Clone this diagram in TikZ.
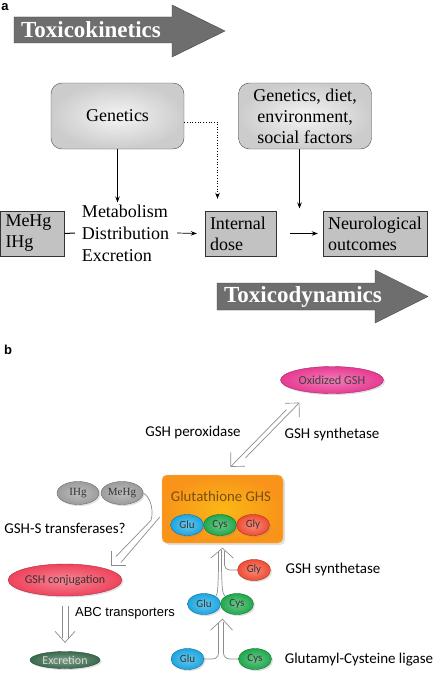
\documentclass[tikz,border=0pt]{standalone}
\usepackage{fontspec}
\setmainfont{Liberation Serif}
\setsansfont{Carlito}
\newfontfamily\arialfont{Liberation Sans}
\usetikzlibrary{arrows.meta,shapes.geometric,shadows,calc}

\definecolor{arrowgrey}{HTML}{6E6E6E}
\definecolor{oxipink}{HTML}{E83A92}
\definecolor{conjred}{HTML}{F0435C}
\definecolor{excgreen}{HTML}{3A6A4E}
\definecolor{ghsorange}{HTML}{F8A01C}
\definecolor{ghstext}{HTML}{7A4E12}
\definecolor{glublue}{HTML}{1CA6E0}
\definecolor{cysgreen}{HTML}{1FA84C}
\definecolor{glyred}{HTML}{F04C34}
\definecolor{hggrey}{HTML}{9C9C9C}

\begin{document}
\begin{tikzpicture}[x=1pt,y=-1pt,
    >={Stealth[length=6pt,width=4.5pt]},
    flow/.style={line width=0.7pt},
    bigarrow/.style={draw=black!75, fill=arrowgrey},
    bigtext/.style={text=white, font=\fontsize{23}{23}\selectfont\bfseries},
    factorbox/.style={draw=black!70, rounded corners=11pt, inner color=black!4, outer color=black!20,
        minimum width=133pt, minimum height=66pt, align=center, font=\fontsize{18}{21}\selectfont},
    stagebox/.style={draw=black!80, fill=black!24, inner xsep=5pt, inner ysep=0pt, minimum height=45pt,
        text width=#1, align=left, font=\fontsize{18}{21}\selectfont},
    panellabel/.style={font=\arialfont\bfseries\fontsize{13}{13}\selectfont},
    sanslabel/.style={font=\sffamily\fontsize{15}{15}\selectfont},
    blob/.style={ellipse, draw=#1!70!black, inner color=#1!65!white, outer color=#1,
        inner sep=0pt, drop shadow={shadow xshift=1.5pt, shadow yshift=-1.5pt, opacity=0.25}},
    aminoacid/.style={blob=#1, minimum width=33pt, minimum height=21pt,
        font=\sffamily\fontsize{11}{11}\selectfont, text=black!80},
    hollow/.style={draw=black!45, line width=0.7pt},
    openhead/.style={hollow, -{Straight Barb[angle=90:14pt]}}
]
    \useasboundingbox (0,0) rectangle (433,685);

    % ---------- panel a ----------
    \node[panellabel] (laba) at (5,7) {a};

    % toxicokinetics / toxicodynamics arrows
    \draw[bigarrow] (14,17) -- (172,17) -- (172,5) -- (225,31) -- (172,57) -- (172,43) -- (14,43) -- cycle;
    \node[bigtext] (tk) at (91,30) {Toxicokinetics};
    \draw[bigarrow] (217,283) -- (375,283) -- (375,270) -- (428,296.5) -- (375,323) -- (375,310) -- (217,310) -- cycle;
    \node[bigtext] (td) at (303,296.5) {Toxicodynamics};

    % modifying factors
    \node[factorbox] (gen) at (117.5,116) {Genetics};
    \node[factorbox] (env) at (305,116) {Genetics, diet,\\environment,\\social factors};

    % exposure chain
    \node[stagebox=54pt] (hgbox) at (32.5,233.5) {MeHg\\IHg};
    \node[align=left, inner sep=0pt, font=\fontsize{18}{22}\selectfont] (metab) at (125.5,233) {Metabolism\\Distribution\\Excretion};
    \node[stagebox=61pt] (dose) at (240.5,233.5) {Internal\\dose};
    \node[stagebox=94pt] (neuro) at (375,233.5) {Neurological\\outcomes};

    \draw[flow, ->, shorten >=2pt] (gen.south) -- (gen.south |- metab.north);
    \draw[flow, dotted, ->] ([yshift=-6pt]gen.east) -| ($(dose.north)+(-23,-12)$);
    \draw[line width=1pt] (hgbox.east) -- ([xshift=-7pt]metab.west);
    \draw[flow, ->] ([xshift=8pt]metab.east) -- ([xshift=-8pt]dose.west);
    \draw[flow, ->] ([xshift=14pt]dose.east) -- ([xshift=-5pt]neuro.west);
    \coordinate (hit) at ($(dose.east)!0.5!(neuro.west)+(0,-25)$);
    \draw[flow, ->] (env.south -| hit) -- (hit);

    % ---------- panel b ----------
    \node[panellabel] (labb) at (8,350) {b};

    \node[blob=oxipink, minimum width=103pt, minimum height=27pt,
        font=\sffamily\fontsize{12.3}{12}\selectfont, text=black!75] (oxi) at (332,380) {Oxidized GSH};

    % glutathione
    \node[draw=ghsorange!70!white, rounded corners=5pt, inner color=ghsorange!75!yellow, outer color=ghsorange!92!red,
        minimum width=121pt, minimum height=68pt,
        drop shadow={shadow xshift=2pt, shadow yshift=-2pt, opacity=0.25}] (ghs) at (222.5,509) {};
    \node[font=\sffamily\fontsize{14.8}{15}\selectfont, text=ghstext] (ghsname) at (221,496) {Glutathione GHS};
    \foreach \x/\c/\n in {187/glublue/Glu, 220/cysgreen/Cys, 253/glyred/Gly}
        \node[aminoacid=\c] (in\n) at (\x,525) {\n};

    % mercury
    \node[blob=hggrey, minimum width=42pt, minimum height=23pt, font=\fontsize{11}{11}\selectfont, text=black!80] (ihg) at (78,493) {IHg};
    \node[blob=hggrey, minimum width=42pt, minimum height=23pt, font=\fontsize{11}{11}\selectfont, text=black!80] (mehg) at (122,493) {MeHg};

    \node[blob=conjred, minimum width=100pt, minimum height=32pt,
        font=\sffamily\fontsize{12}{12}\selectfont, text=black!80] (conj) at (65,580) {GSH conjugation};
    \node[blob=excgreen, minimum width=70pt, minimum height=17pt,
        font=\sffamily\fontsize{12}{12}\selectfont, text=white!85!black] (exc) at (65,660) {Excretion};

    % building blocks
    \node[aminoacid=glublue] (uglu) at (204,604) {Glu};
    \node[aminoacid=cysgreen] (ucys) at (237,604) {Cys};
    \node[aminoacid=glyred] (ugly) at (254,570) {Gly};
    \node[aminoacid=glublue] (lglu) at (187.5,659) {Glu};
    \node[aminoacid=cysgreen] (lcys) at (255,659) {Cys};

    % enzyme labels
    \node[sanslabel] (perox) at (193,432) {GSH peroxidase};
    \node[sanslabel] (synth) at (332,434) {GSH synthetase};
    \node[sanslabel] (transf) at (65,528) {GSH-S transferases?};
    \node[font=\arialfont\fontsize{13}{13}\selectfont] (abc) at (125,613) {ABC transporters};
    \node[sanslabel] (synthb) at (333,569) {GSH synthetase};
    \node[sanslabel] (ligase) at (359,660) {Glutamyl-Cysteine ligase};

    % oxidation and back
    \coordinate (oxtip) at ($(oxi.south west)+(4,13)$);
    \coordinate (ghstip) at ($(ghs.north)+(8,-8)$);
    \draw[openhead] ($(oxtip)+(-13,7)$) -- (ghstip);
    \draw[openhead] ($(ghstip)+(15,-9)$) -- (oxtip);

    % conjugation with mercury
    \coordinate (trtip) at ($(conj.north east)+(5.5,-3)$);
    \draw[hollow] ($(ghs.west)+(-2,8)$) -- ($(trtip)+(10,-3)$);
    \draw[hollow] (mehg.east) .. controls +(8,4) and +(3,-8) .. ($(trtip)+(40,-45)$) -- ($(trtip)+(5,-9)$);
    \draw[hollow] ($(trtip)+(15,0)$) -- (trtip) -- ($(trtip)+(0,-15)$);

    % export
    \coordinate (exctip) at ($(exc.north)+(0,-9)$);
    \draw[hollow] ($(conj.south)+(-3,10)$) -- ($(exctip)+(-3,-4)$);
    \draw[hollow] ($(conj.south)+(3,10)$) -- ($(exctip)+(3,-4)$);
    \draw[hollow] ($(exctip)+(-10,-11)$) -- (exctip) -- ($(exctip)+(10,-11)$);

    % synthesis
    \coordinate (uptip) at ($(ghs.south)+(0,5)$);
    \coordinate (lowtip) at ($(uptip)+(0,71)$);
    \draw[hollow] (uglu.north east) .. controls +(2,-4) .. ($(uptip)+(-4,20)$) -- ($(uptip)+(-4,4)$);
    \draw[hollow] (ucys.north west) .. controls +(-3,-4) .. ($(uptip)+(-1,20)$) -- ($(uptip)+(-1,2)$);
    \draw[hollow, rounded corners=5pt] (ugly.west) -| ($(uptip)+(2,3)$);
    \draw[hollow] ($(uptip)+(-12,10)$) -- (uptip) -- ($(uptip)+(11,10)$);
    \draw[hollow, rounded corners=6pt] (lglu.east) -| ($(lowtip)+(-4,4)$);
    \draw[hollow, rounded corners=6pt] (lcys.west) -| ($(lowtip)+(1,3)$);
    \draw[hollow] ($(lowtip)+(-12,11)$) -- (lowtip) -- ($(lowtip)+(10,11)$);
\end{tikzpicture}
\end{document}
